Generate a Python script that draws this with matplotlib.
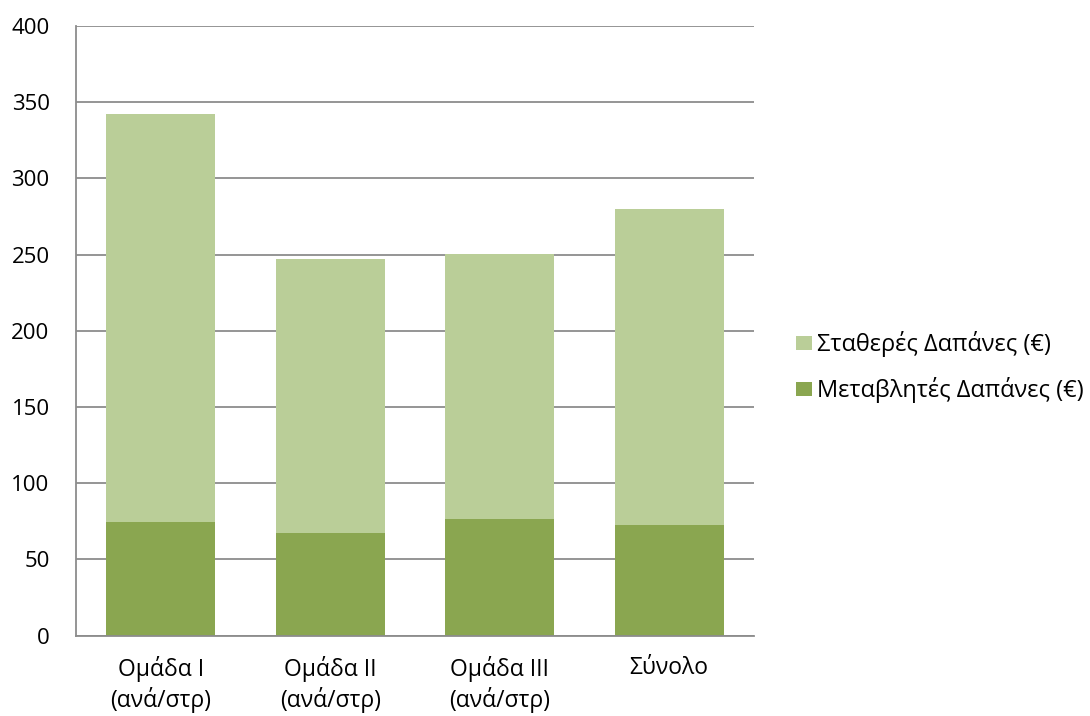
import matplotlib.pyplot as plt
import numpy as np

plt.rcParams['font.family'] = ['Open Sans', 'DejaVu Sans']

categories = ["Ομάδα I\n(ανά/στρ)", "Ομάδα II\n(ανά/στρ)", "Ομάδα III\n(ανά/στρ)", "Σύνολο"]
variable_costs = [74.5, 67, 76.5, 72.5]
fixed_costs = [267.5, 180, 174, 207.5]
yticks = [0, 50, 100, 150, 200, 250, 300, 350, 400]

fig = plt.figure(figsize=(10.9, 7.16), dpi=100)
ax = fig.add_axes([0.0697, 0.1124, 0.622, 0.8513])

x = np.arange(len(categories))
ax.bar(x, variable_costs, width=0.643, color="#8AA650", label="Μεταβλητές Δαπάνες (€)", zorder=3)
ax.bar(x, fixed_costs, width=0.643, bottom=variable_costs, color="#BACE98",
       label="Σταθερές Δαπάνες (€)", zorder=3)

ax.set_xlim(-0.5, 3.5)
ax.set_ylim(0, 400)
ax.set_yticks(yticks)
ax.set_xticks(x)
ax.set_xticklabels(categories, fontsize=16.5, linespacing=1.25, va="top")
ax.tick_params(axis="y", labelsize=16, length=0, pad=19)
ax.tick_params(axis="x", length=0, pad=15)
ax.grid(axis="y", color="#8C8C8C", linewidth=1.3, zorder=0)

for side in ["top", "right"]:
    ax.spines[side].set_visible(False)
for side in ["left", "bottom"]:
    ax.spines[side].set_color("#8C8C8C")
    ax.spines[side].set_linewidth(1.3)
    ax.spines[side].set_zorder(4)

handles, labels = ax.get_legend_handles_labels()
fig.legend(handles[::-1], labels[::-1], loc="center left", bbox_to_anchor=(796 / 1090, 0.4874),
           frameon=False, fontsize=17, handlelength=0.66, handleheight=0.54,
           handletextpad=0.25, labelspacing=0.85, borderpad=0, borderaxespad=0)

plt.savefig("out.png", dpi=100)
